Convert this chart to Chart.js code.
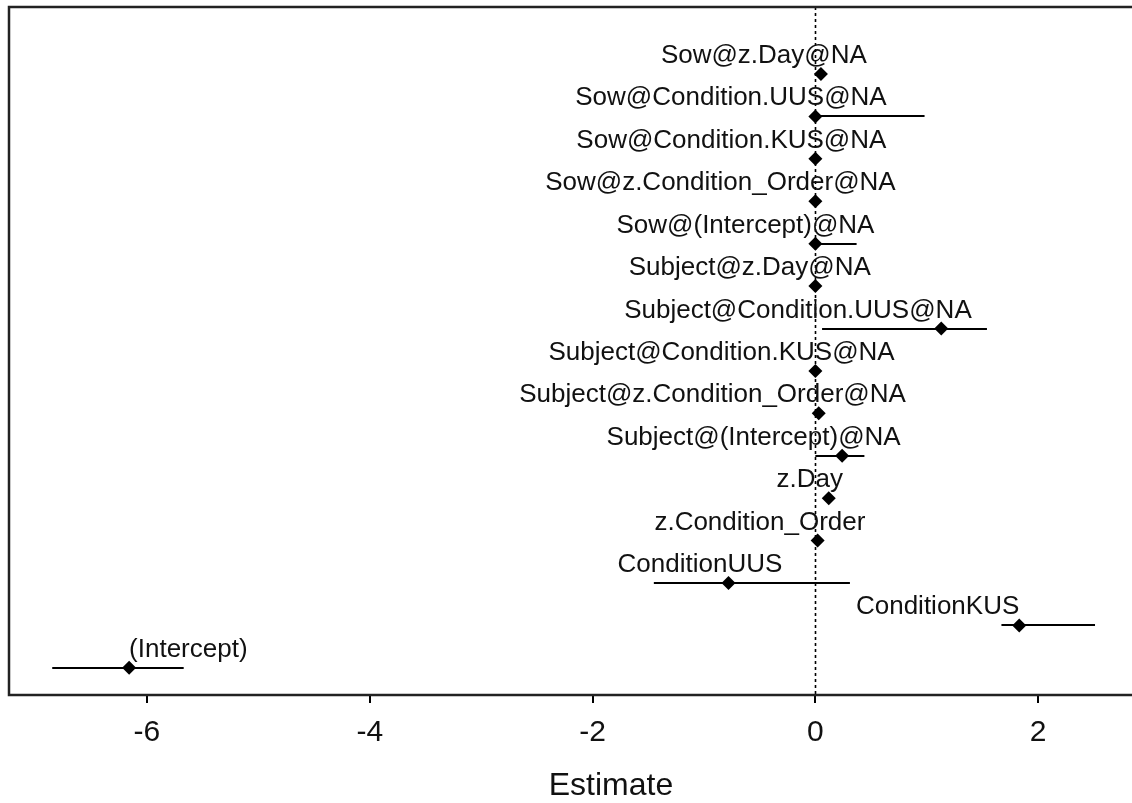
<!DOCTYPE html>
<html>
<head>
<meta charset="utf-8">
<script src="https://cdn.jsdelivr.net/npm/chart.js@4/dist/chart.umd.min.js"></script>
<style>
  html, body { margin: 0; padding: 0; background: #fff; overflow: hidden; }
  #wrap { width: 1220px; height: 803px; }
</style>
</head>
<body>
<div id="wrap"><canvas id="c" width="1220" height="803"></canvas></div>
<script>
// Model terms, listed top to bottom
const terms = [
  'Sow@z.Day@NA',
  'Sow@Condition.UUS@NA',
  'Sow@Condition.KUS@NA',
  'Sow@z.Condition_Order@NA',
  'Sow@(Intercept)@NA',
  'Subject@z.Day@NA',
  'Subject@Condition.UUS@NA',
  'Subject@Condition.KUS@NA',
  'Subject@z.Condition_Order@NA',
  'Subject@(Intercept)@NA',
  'z.Day',
  'z.Condition_Order',
  'ConditionUUS',
  'ConditionKUS',
  '(Intercept)'
];
const estimates = [0.05, 0.00, 0.00, 0.00, 0.00, 0.00, 1.13, 0.00, 0.03, 0.24, 0.12, 0.02, -0.78, 1.83, -6.16];
const lower     = [0.05, 0.00, 0.00, 0.00, 0.00, 0.00, 0.06, 0.00, 0.03, 0.00, 0.09, -0.02, -1.45, 1.67, -6.85];
const upper     = [0.05, 0.98, 0.00, 0.00, 0.37, 0.00, 1.54, 0.00, 0.03, 0.44, 0.16, 0.05, 0.31, 2.51, -5.67];
const xTicks = [-6, -4, -2, 0, 2];

const FONT = '"Liberation Sans", Arial, Helvetica, sans-serif';
const INK = '#111';

const forestDecor = {
  id: 'forestDecor',
  beforeDatasetsDraw(chart) {
    const { ctx, chartArea: a, scales: { x, y } } = chart;
    ctx.save();
    // dotted reference line at zero
    ctx.strokeStyle = '#000';
    ctx.lineWidth = 1.6;
    ctx.setLineDash([3, 3]);
    const x0 = Math.round(x.getPixelForValue(0)) + 0.5;
    ctx.beginPath();
    ctx.moveTo(x0, a.top);
    ctx.lineTo(x0, a.bottom);
    ctx.stroke();
    ctx.setLineDash([]);
    // interval whiskers
    ctx.lineWidth = 2;
    terms.forEach((t, i) => {
      const py = Math.round(y.getPixelForValue(i));
      ctx.beginPath();
      ctx.moveTo(x.getPixelForValue(lower[i]), py);
      ctx.lineTo(x.getPixelForValue(upper[i]), py);
      ctx.stroke();
    });
    ctx.restore();
  },
  afterDatasetsDraw(chart) {
    const { ctx, chartArea: a, scales: { x, y } } = chart;
    ctx.save();
    // term names above each estimate, justified by position along the estimate range
    const lo = Math.min(...estimates), hi = Math.max(...estimates);
    ctx.font = '26px ' + FONT;
    ctx.fillStyle = INK;
    ctx.textBaseline = 'alphabetic';
    ctx.textAlign = 'left';
    terms.forEach((t, i) => {
      const hj = (estimates[i] - lo) / (hi - lo);
      const w = ctx.measureText(t).width;
      const px = x.getPixelForValue(estimates[i]);
      const py = y.getPixelForValue(i);
      ctx.fillText(t, px - hj * w, py - 11);
    });
    // panel box
    ctx.strokeStyle = '#222';
    ctx.lineWidth = 2.5;
    ctx.strokeRect(a.left, a.top, a.right - a.left, a.bottom - a.top);
    ctx.restore();
  }
};

new Chart(document.getElementById('c'), {
  type: 'scatter',
  data: {
    datasets: [{
      data: estimates.map((v, i) => ({ x: v, y: i })),
      pointStyle: 'rectRot',
      pointRadius: 7,
      pointHoverRadius: 7,
      backgroundColor: '#000',
      borderColor: '#000',
      borderWidth: 0
    }]
  },
  options: {
    responsive: false,
    animation: false,
    devicePixelRatio: 1,
    layout: { padding: { left: 9, top: 7, right: 5, bottom: 0 } },
    plugins: { legend: { display: false }, tooltip: { enabled: false } },
    scales: {
      x: {
        type: 'linear',
        min: -7.238,
        max: 3.569,
        afterBuildTicks(scale) { scale.ticks = xTicks.map(v => ({ value: v })); },
        afterFit(scale) { scale.height = 108; },
        border: { display: false },
        grid: { drawOnChartArea: false, drawTicks: true, tickLength: 8, color: '#000', lineWidth: 2 },
        ticks: { font: { family: FONT, size: 30 }, color: INK, padding: 12, maxRotation: 0,
                 callback: v => String(v) },
        title: { display: true, text: 'Estimate', color: INK,
                 font: { family: FONT, size: 32, lineHeight: 1.0 }, padding: { top: 0, bottom: 1 } }
      },
      y: {
        type: 'linear',
        reverse: true,
        min: -1.58,
        max: 14.64,
        display: false
      }
    }
  },
  plugins: [forestDecor]
});
</script>
</body>
</html>
